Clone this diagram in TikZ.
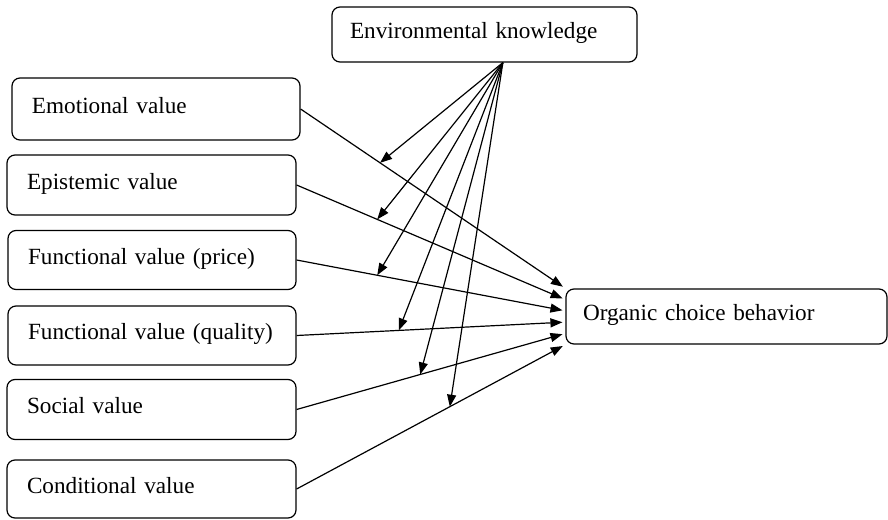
\documentclass[tikz,border=0pt]{standalone}
\usepackage{fontspec}
\setmainfont{Liberation Serif}
\usepackage{tikz}
\usetikzlibrary{positioning,calc,arrows.meta}

\begin{document}
\begin{tikzpicture}[x=0.5pt, y=-0.5pt, >={Triangle[length=6pt,width=4.5pt]},
        valbox/.style={draw, semithick, rounded corners=4pt, align=left,
            font=\fontsize{11.6}{14}\selectfont, inner xsep=10pt,
            text width=#1, minimum height=30pt, text depth=4pt},
        link/.style={->, semithick}]
        \useasboundingbox (0,0) rectangle (888,519);

        \node[valbox=134.5pt, inner xsep=9pt, minimum height=27.5pt] (env) at (484.5,34.5) {Environmental knowledge};
        \node[valbox=124pt, minimum height=31pt] (emo) at (156,109) {Emotional value};
        \node[valbox=124.5pt] (epi) at (151.5,185) {Epistemic value};
        \node[valbox=124pt, minimum height=29.5pt] (price) at (152,260) {Functional value (price)};
        \node[valbox=124pt, minimum height=29.5pt] (qual) at (152,335.5) {\mbox{Functional value (quality)}};
        \node[valbox=124.5pt] (soc) at (151.5,409.5) {Social value};
        \node[valbox=124.5pt, minimum height=29pt] (cond) at (151.5,489) {Conditional value};
        \node[valbox=143.5pt, inner xsep=8.5pt, minimum height=27.5pt] (org) at (726.5,316.5) {Organic choice behavior};

        \coordinate (hub) at ($(env.south west)!0.56!(env.south east)$);

        \foreach \src/\k/\p in {emo/0/0.30, epi/1/0.30, price/2/0.30, qual/3/0.38, soc/4/0.46, cond/5/0.57} {
            \draw[link, shorten >=1.5pt] (\src.east) -- coordinate[pos=\p] (m\k) ($(org.north west)!\k/5!(org.south west)$);
            \draw[link] (hub) -- (m\k);
        }
    \end{tikzpicture}
\end{document}
